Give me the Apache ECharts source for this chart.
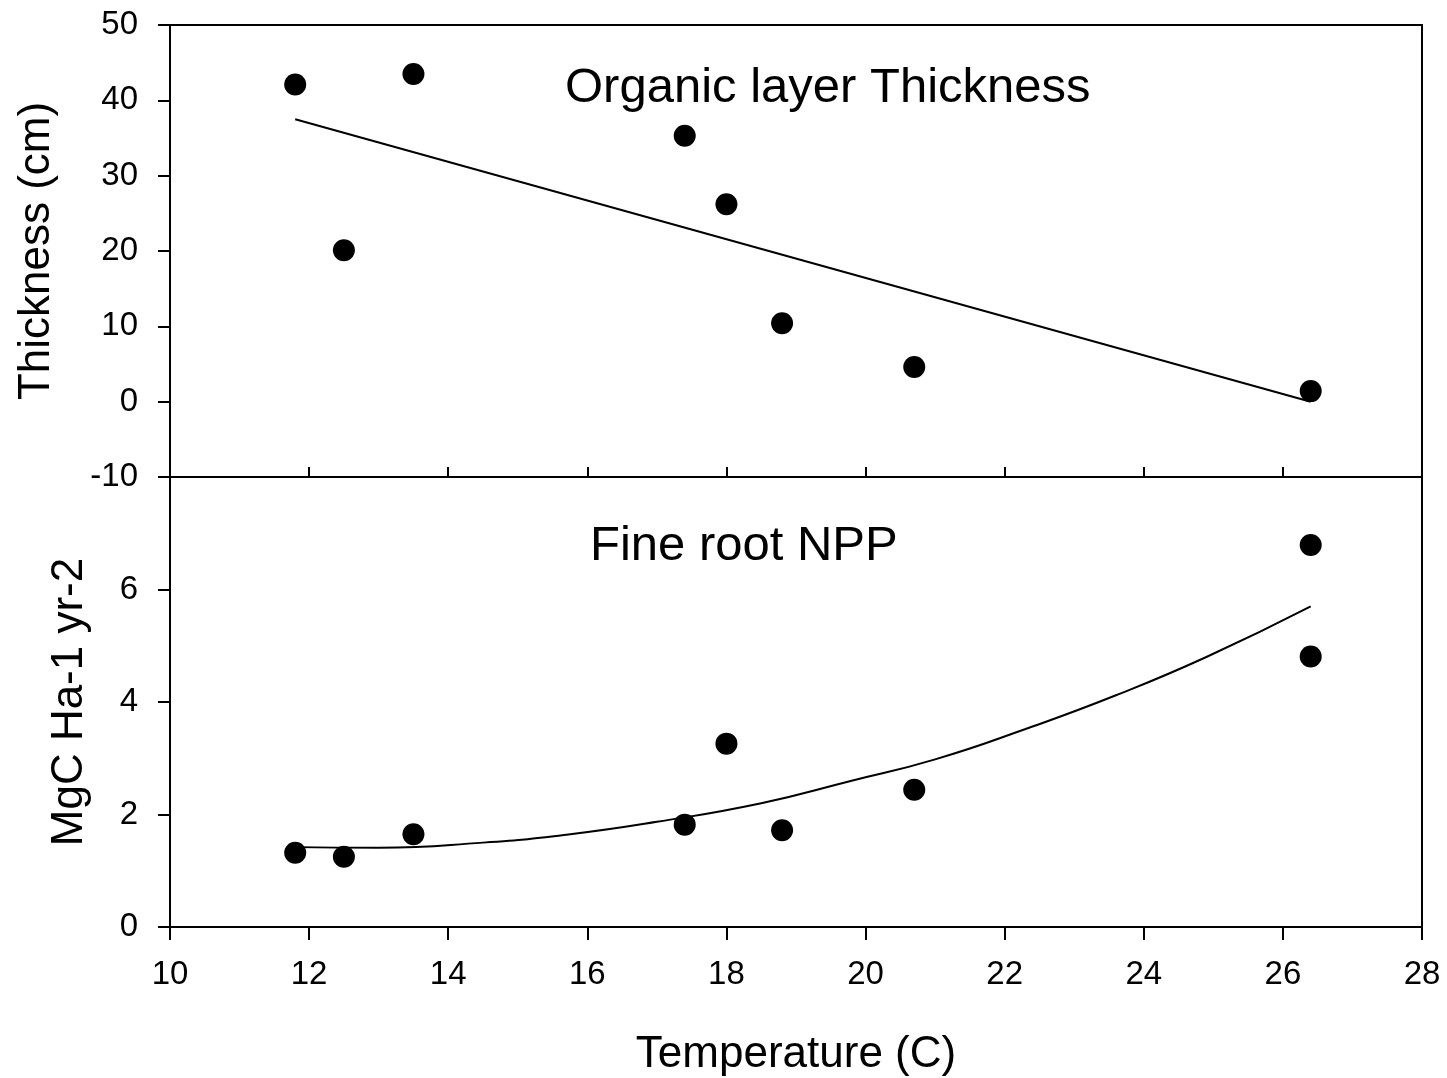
<!DOCTYPE html>
<html>
<head>
<meta charset="utf-8">
<title>Organic layer thickness and fine root NPP vs temperature</title>
<script src="https://cdn.jsdelivr.net/npm/echarts@6/dist/echarts.min.js"></script>
<style>
  html, body { margin: 0; padding: 0; background: #fff; }
  #chart { width: 1447px; height: 1078px; }
</style>
</head>
<body>
<div id="chart"></div>
<script>
// Site mean temperature (C) for the thickness panel
const thicknessTemp = [11.8, 12.5, 13.5, 17.4, 18.0, 18.8, 20.7, 26.4];
// Organic layer thickness (cm)
const thickness = [42.1, 20.1, 43.5, 35.3, 26.2, 10.4, 4.6, 1.4];
// Linear fit of thickness on temperature (end points)
const thicknessFitTemp = [11.8, 26.4];
const thicknessFit = [37.5, 0.0];

// Site mean temperature (C) for the NPP panel
const nppTemp = [11.8, 12.5, 13.5, 17.4, 18.0, 18.8, 20.7, 26.4, 26.4];
// Fine root NPP (MgC Ha-1 yr-2)
const npp = [1.32, 1.25, 1.65, 1.82, 3.26, 1.72, 2.44, 6.79, 4.81];
// Curved fit of fine root NPP on temperature
const nppFitTemp = [11.8, 13.0, 14.5, 15.7, 17.0, 18.5, 19.8, 21.0, 22.3, 23.6, 24.9, 26.4];
const nppFit = [1.42, 1.41, 1.50, 1.64, 1.87, 2.20, 2.60, 2.98, 3.52, 4.12, 4.80, 5.70];

// Axis ticks
const tempTicks = { min: 10, max: 28, interval: 2 };
const thicknessTicks = { min: -10, max: 50, interval: 10 };
const nppTicks = { min: 0, max: 8, interval: 2 };

const pairs = (xs, ys) => xs.map((x, i) => [x, ys[i]]);

const FONT = '"Liberation Sans", Arial, sans-serif';
const INK = '#000';
const axisLineStyle = { color: INK, width: 2 };

const chart = echarts.init(document.getElementById('chart'), null, { renderer: 'canvas' });

chart.setOption({
  backgroundColor: '#fff',
  animation: false,
  textStyle: { fontFamily: FONT, color: INK },
  grid: [
    { left: 170, right: 25, top: 25, height: 452, show: true, borderColor: INK, borderWidth: 2, backgroundColor: 'transparent' },
    { left: 170, right: 25, top: 477, height: 453, show: true, borderColor: INK, borderWidth: 2, backgroundColor: 'transparent' }
  ],
  xAxis: [
    {
      gridIndex: 0, type: 'value', position: 'bottom',
      min: tempTicks.min, max: tempTicks.max, interval: tempTicks.interval,
      axisLine: { show: true, onZero: false, lineStyle: axisLineStyle },
      axisTick: { show: true, inside: true, length: 10, lineStyle: { color: INK, width: 2 } },
      axisLabel: { show: false },
      splitLine: { show: false }
    },
    {
      gridIndex: 1, type: 'value', position: 'bottom',
      min: tempTicks.min, max: tempTicks.max, interval: tempTicks.interval,
      name: 'Temperature (C)', nameLocation: 'middle', nameGap: 106,
      nameTextStyle: { fontFamily: FONT, fontSize: 44, color: INK },
      axisLine: { show: true, onZero: false, lineStyle: axisLineStyle },
      axisTick: { show: true, inside: false, length: 13, lineStyle: { color: INK, width: 2 } },
      axisLabel: { fontFamily: FONT, fontSize: 33, color: INK, margin: 31 },
      splitLine: { show: false }
    }
  ],
  yAxis: [
    {
      gridIndex: 0, type: 'value',
      min: thicknessTicks.min, max: thicknessTicks.max, interval: thicknessTicks.interval,
      name: 'Thickness (cm)', nameLocation: 'middle', nameGap: 111,
      nameTextStyle: { fontFamily: FONT, fontSize: 44, color: INK },
      axisLine: { show: true, onZero: false, lineStyle: axisLineStyle },
      axisTick: { show: true, inside: false, length: 12, lineStyle: { color: INK, width: 2 } },
      axisLabel: { fontFamily: FONT, fontSize: 33, color: INK, margin: 32 },
      splitLine: { show: false }
    },
    {
      gridIndex: 1, type: 'value',
      min: nppTicks.min, max: nppTicks.max, interval: nppTicks.interval,
      name: 'MgC Ha-1 yr-2', nameLocation: 'middle', nameGap: 78,
      nameTextStyle: { fontFamily: FONT, fontSize: 44, color: INK },
      axisLine: { show: true, onZero: false, lineStyle: axisLineStyle },
      axisTick: { show: true, inside: false, length: 12, lineStyle: { color: INK, width: 2 } },
      axisLabel: {
        fontFamily: FONT, fontSize: 33, color: INK, margin: 32,
        formatter: v => (v === nppTicks.max ? '' : String(v))
      },
      splitLine: { show: false }
    }
  ],
  graphic: [
    {
      type: 'text', left: 565, top: 64, z: 10,
      style: { text: 'Organic layer Thickness', fontFamily: FONT, fontSize: 49, fill: INK }
    },
    {
      type: 'text', left: 590, top: 522, z: 10,
      style: { text: 'Fine root NPP', fontFamily: FONT, fontSize: 49, fill: INK }
    }
  ],
  series: [
    {
      name: 'Thickness fit', type: 'line', xAxisIndex: 0, yAxisIndex: 0,
      data: pairs(thicknessFitTemp, thicknessFit),
      showSymbol: false, lineStyle: { color: INK, width: 2 }, silent: true
    },
    {
      name: 'Thickness', type: 'scatter', xAxisIndex: 0, yAxisIndex: 0,
      data: pairs(thicknessTemp, thickness),
      symbol: 'circle', symbolSize: 22, itemStyle: { color: INK, opacity: 1 }
    },
    {
      name: 'NPP fit', type: 'line', xAxisIndex: 1, yAxisIndex: 1,
      data: pairs(nppFitTemp, nppFit), smooth: true,
      showSymbol: false, lineStyle: { color: INK, width: 2 }, silent: true
    },
    {
      name: 'Fine root NPP', type: 'scatter', xAxisIndex: 1, yAxisIndex: 1,
      data: pairs(nppTemp, npp),
      symbol: 'circle', symbolSize: 22, itemStyle: { color: INK, opacity: 1 }
    }
  ]
});
</script>
</body>
</html>
